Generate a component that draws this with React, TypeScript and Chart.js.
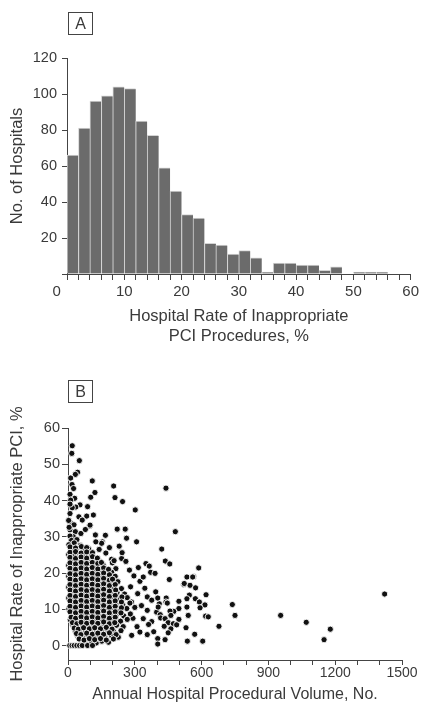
import React, { useEffect, useRef } from 'react';
import { Chart, registerables } from 'chart.js';

Chart.register(...registerables);

// ---------- Panel A: histogram ----------
const binStarts = [0, 2, 4, 6, 8, 10, 12, 14, 16, 18, 20, 22, 24, 26, 28, 30, 32, 34, 36, 38, 40, 42, 44, 46, 48, 50, 52, 54];
const hospitalCounts = [66, 81, 96, 99, 104, 103, 85, 77, 59, 46, 33, 31, 17, 16, 11, 13, 9, 1, 6, 6, 5, 5, 2, 4, 0, 1, 1, 1];
const rateAxisLabels = [0, 10, 20, 30, 40, 50, 60];
const countAxisLabels = [20, 40, 60, 80, 100, 120];

// ---------- Panel B: scatter ----------
const volumeAxisLabels = [0, 300, 600, 900, 1200, 1500];
const scatterRateTicks = [0, 10, 20, 30, 40, 50, 60];

// [annual volume, rate of inappropriate PCI %]
const hospitalPoints: [number, number][] = [
  // sparse, high rates
  [19, 55.1], [17, 53], [51, 51], [43, 47.8], [33, 47.2], [12, 46.2], [18, 44.4], [25, 43.3], [9, 41.7], [30, 40.6],
  [12, 40.1], [109, 45.4], [121, 42.2], [102, 40.9], [54, 38.8], [35, 38.2], [19, 38], [9, 39], [9, 36.4], [49, 35.5],
  [84, 35.7], [88, 38.3], [114, 36], [64, 34.6], [13, 33.7], [27, 33.3], [97, 33], [9, 31.9], [33, 31.4], [58, 30.9],
  [78, 32], [99, 33.2], [123, 30.5], [168, 30.4], [24, 30], [9, 30.2], [16, 29], [40, 29.2], [3, 34.5], [5, 32.6],
  // mid volumes, mid-high rates
  [205, 44], [211, 40.8], [245, 39.7], [302, 37.4], [221, 32.1], [257, 32.1], [154, 28.6], [263, 29.6], [308, 28.6],
  [230, 27.4], [151, 28.2], [125, 28.6], [186, 27], [140, 26.5], [170, 25.5], [196, 23.8], [241, 24], [243, 25.6],
  [260, 23.2], [199, 22.8], [215, 21.2], [207, 23.4],
  [440, 43.4], [482, 31.4], [421, 26.6], [437, 23.3], [457, 22.5], [455, 18.2],
  // 270-400
  [281, 16.2], [313, 14.3], [323, 17.7], [338, 18.9], [371, 20.2], [391, 19.9], [316, 21.5], [350, 22.6], [365, 21.9],
  [356, 13.4], [376, 12.5], [398, 9.2], [356, 9.7], [338, 7.4], [376, 6.6], [356, 3], [323, 3.7], [286, 2.8], [394, 14.8],
  [300, 10.5], [292, 7.5], [330, 11], [310, 5.2], [345, 15.8], [285, 12], [296, 19.2], [276, 20.8], [362, 5.8], [385, 3.8],
  // 400-650
  [534, 18.9], [564, 19], [520, 16.8], [548, 16.6], [573, 15.9], [545, 13.9], [572, 12.9], [620, 14], [590, 12], [615, 11.2],
  [593, 10.4], [534, 12.9], [534, 10.6], [540, 8.3], [618, 8.1], [498, 12.2], [498, 10.2], [498, 7.2], [475, 9.4], [441, 13.1],
  [440, 12], [410, 11.5], [405, 10.6], [414, 8.5], [416, 7.6], [436, 7.4], [450, 6.3], [473, 6], [488, 5.7], [462, 4.6],
  [450, 3.5], [530, 4.9], [569, 3.1], [403, 1.9], [403, 0.4], [436, 1.6], [536, 1.2], [605, 1.2], [587, 21.4], [403, 13.1],
  [446, 11.7], [458, 9.5], [522, 17.1], [560, 18.9], [462, 8.3], [432, 5.3], [630, 7.9],
  // far right
  [678, 5.3], [738, 11.3], [750, 8.3], [955, 8.3], [1070, 6.4], [1178, 4.5], [1150, 1.6], [1422, 14.2],
  // dense cloud
  [4, 27.8], [28, 28.3], [55, 27.6],
  [15, 26.4], [40, 26.8], [66, 26.2], [92, 26.7],
  [3, 25.1], [28, 24.8], [52, 25.3], [77, 24.9], [104, 25.2],
  [15, 23.6], [40, 23.3], [65, 23.8], [90, 23.2], [116, 23.7], [142, 23.3],
  [3, 22.1], [28, 21.8], [52, 22.3], [77, 21.7], [102, 22.2], [128, 21.9], [158, 22.2],
  [15, 20.6], [40, 20.3], [65, 20.8], [90, 20.2], [115, 20.7], [140, 20.4], [168, 20.8], [196, 20.2],
  [3, 19.1], [28, 18.8], [52, 19.3], [77, 18.7], [102, 19.2], [127, 18.9], [153, 19.3], [182, 18.8], [212, 19.1],
  [15, 17.6], [40, 17.3], [65, 17.8], [90, 17.2], [115, 17.7], [140, 17.4], [166, 17.8], [194, 17.2], [224, 17.6],
  [3, 16.1], [28, 15.8], [52, 16.3], [77, 15.7], [102, 16.2], [127, 15.9], [152, 16.3], [178, 15.8], [206, 16.1], [240, 15.7],
  [15, 14.6], [40, 14.3], [65, 14.8], [90, 14.2], [115, 14.7], [140, 14.4], [165, 14.8], [192, 14.3], [220, 14.6], [254, 14.2],
  [3, 13.1], [28, 12.8], [52, 13.3], [77, 12.7], [102, 13.2], [127, 12.9], [152, 13.3], [178, 12.8], [204, 13.1], [234, 12.7], [266, 13.2],
  [15, 11.6], [40, 11.3], [65, 11.8], [90, 11.2], [115, 11.7], [140, 11.4], [165, 11.8], [190, 11.3], [216, 11.6], [246, 11.2], [278, 11.7],
  [4, 10.1], [28, 9.8], [52, 10.3], [77, 9.7], [102, 10.2], [127, 9.9], [152, 10.3], [178, 9.8], [204, 10.1], [232, 9.7], [264, 10.2],
  [15, 8.6], [40, 8.3], [65, 8.8], [90, 8.2], [115, 8.7], [140, 8.4], [165, 8.8], [190, 8.3], [218, 8.6], [250, 8.2], [280, 8.7],
  [10, 7.1], [28, 6.8], [52, 7.3], [77, 6.7], [102, 7.2], [127, 6.9], [152, 7.3], [178, 6.8], [204, 7.1], [236, 6.7], [266, 7.2],
  [22, 5.6], [40, 5.3], [65, 5.8], [90, 5.2], [115, 5.7], [140, 5.4], [165, 5.8], [190, 5.3], [218, 5.6], [248, 5.2],
  [32, 4.1], [52, 3.8], [77, 4.3], [102, 3.7], [127, 4.2], [152, 3.9], [178, 4.3], [206, 3.8], [238, 4.1],
  [44, 2.6], [65, 2.3], [90, 2.8], [115, 2.2], [140, 2.7], [165, 2.4], [194, 2.8], [226, 2.3],
  [58, 1.1], [77, 0.8], [102, 1.3], [127, 0.7], [152, 1.2], [182, 0.9],
  [8, 0], [18, 0], [28, 0], [40, 0], [52, 0], [64, 0], [88, 0], [110, 0],
  // dense cloud, in-between hospitals
  [9, 27.2], [34, 26.9], [60, 27.3], [84, 27.0],
  [9, 25.7], [34, 25.9], [59, 25.5], [84, 25.8], [110, 25.6],
  [9, 24.3], [34, 24.0], [59, 24.4], [84, 24.1], [110, 24.5], [132, 24.1],
  [9, 22.8], [34, 22.5], [59, 22.9], [84, 22.6], [109, 22.9], [134, 22.6], [150, 22.9],
  [9, 21.3], [34, 21.0], [59, 21.4], [84, 21.1], [109, 21.5], [134, 21.1], [160, 21.4], [182, 21.0],
  [9, 19.8], [34, 19.5], [59, 19.9], [84, 19.6], [109, 19.9], [134, 19.6], [160, 20.0], [186, 19.5],
  [9, 18.3], [34, 18.0], [59, 18.4], [84, 18.1], [109, 18.4], [134, 18.1], [160, 18.5], [186, 18.0], [200, 18.3],
  [9, 16.8], [34, 16.5], [59, 16.9], [84, 16.6], [109, 16.9], [134, 16.6], [160, 17.0], [186, 16.5], [212, 16.8],
  [9, 15.3], [34, 15.0], [59, 15.4], [84, 15.1], [109, 15.4], [134, 15.1], [160, 15.5], [186, 15.0], [214, 15.3],
  [9, 13.8], [34, 13.5], [59, 13.9], [84, 13.6], [109, 13.9], [134, 13.6], [160, 14.0], [186, 13.5], [212, 13.8], [242, 13.4],
  [9, 12.3], [34, 12.0], [59, 12.4], [84, 12.1], [109, 12.4], [134, 12.1], [160, 12.5], [186, 12.0], [212, 12.3], [240, 12.0],
  [9, 10.8], [34, 10.5], [59, 10.9], [84, 10.6], [109, 10.9], [134, 10.6], [160, 11.0], [186, 10.5], [212, 10.8], [240, 10.4],
  [9, 9.3], [34, 9.0], [59, 9.4], [84, 9.1], [109, 9.4], [134, 9.1], [160, 9.5], [186, 9.0], [212, 9.3], [238, 9.0],
  [14, 7.8], [34, 7.5], [59, 7.9], [84, 7.6], [109, 7.9], [134, 7.6], [160, 8.0], [186, 7.5], [212, 7.8],
  [20, 6.3], [40, 6.0], [59, 6.4], [84, 6.1], [109, 6.4], [134, 6.1], [160, 6.5], [186, 6.0], [210, 6.3],
  [28, 4.8], [46, 4.5], [70, 4.9], [96, 4.6], [120, 4.9], [146, 4.6], [172, 5.0], [198, 4.5],
  [38, 3.3], [58, 3.0], [84, 3.4], [109, 3.1], [134, 3.4], [160, 3.1], [186, 3.5], [216, 3.0],
  [50, 1.8], [72, 1.5], [96, 1.9], [120, 1.6], [146, 1.9], [172, 1.5], [204, 1.8],
];

const FONT = "'Liberation Sans', Arial, Helvetica, sans-serif";
const TEXT = '#3a3a3a';
const LINE = '#444444';

function HistogramChart() {
  const ref = useRef<HTMLCanvasElement | null>(null);
  useEffect(() => {
    if (!ref.current) return;
    const chart = new Chart(ref.current, {
      type: 'bar',
      data: {
        datasets: [
          {
            data: binStarts.map((b, i) => ({ x: b + 1, y: hospitalCounts[i] })),
            backgroundColor: '#6b6b6b',
            borderColor: '#d4d4d4',
            borderWidth: { top: 1, left: 1, right: 0, bottom: 0 },
            borderSkipped: false,
            barPercentage: 1,
            categoryPercentage: 1,
          } as any,
        ],
      },
      options: {
        animation: false,
        responsive: false,
        maintainAspectRatio: false,
        layout: { padding: { top: 58, right: 11, left: 0, bottom: 0 } },
        plugins: { legend: { display: false }, tooltip: { enabled: false } },
        scales: {
          x: {
            type: 'linear',
            min: 0,
            max: 60,
            offset: false,
            border: { display: true, color: LINE, width: 1 },
            grid: { display: true, drawOnChartArea: false, drawTicks: true, tickLength: 6, tickColor: LINE, offset: false },
            ticks: {
              stepSize: 2,
              autoSkip: false,
              maxRotation: 0,
              maxTicksLimit: 100,
              padding: 3,
              color: TEXT,
              font: { family: FONT, size: 15 },
              callback: (v: any) => {
                const n = Number(v);
                if (!rateAxisLabels.includes(n)) return '';
                return n === 0 ? '0\u2007\u2007 ' : String(n);
              },
            },
            title: {
              display: true,
              text: ['Hospital Rate of Inappropriate', 'PCI Procedures, %'],
              color: TEXT,
              font: { family: FONT, size: 16.5, lineHeight: 20 / 16.5 },
              padding: { top: 0, bottom: 4 },
            },
            afterFit: (s: any) => {
              s.height = 76;
            },
          } as any,
          y: {
            type: 'linear',
            min: 0,
            max: 120,
            border: { display: true, color: LINE, width: 1 },
            grid: { display: true, drawOnChartArea: false, drawTicks: true, tickLength: 5, tickColor: LINE },
            ticks: {
              stepSize: 20,
              padding: 5,
              color: TEXT,
              font: { family: FONT, size: 14.5 },
              callback: (v: any) => (countAxisLabels.includes(Number(v)) ? String(v) : ''),
            },
            title: {
              display: true,
              text: 'No. of Hospitals',
              color: TEXT,
              font: { family: FONT, size: 16.5, lineHeight: 1.2 },
              padding: { top: 8, bottom: 0 },
            },
            afterFit: (s: any) => {
              s.width = 67;
            },
          } as any,
        },
      },
    });
    return () => chart.destroy();
  }, []);
  return <canvas ref={ref} width={422} height={350} style={{ position: 'absolute', left: 0, top: 0, width: 422, height: 350 }} />;
}

function ScatterChart() {
  const ref = useRef<HTMLCanvasElement | null>(null);
  useEffect(() => {
    if (!ref.current) return;
    const chart = new Chart(ref.current, {
      type: 'scatter',
      data: {
        datasets: [
          {
            data: hospitalPoints.map(([x, y]) => ({ x, y })),
            pointRadius: 3.1,
            pointBorderWidth: 0.9,
            pointBorderColor: '#ffffff',
            pointBackgroundColor: '#111111',
            clip: false,
          } as any,
        ],
      },
      options: {
        animation: false,
        responsive: false,
        maintainAspectRatio: false,
        layout: { padding: { top: 78, right: 20, left: 0, bottom: 0 } },
        plugins: { legend: { display: false }, tooltip: { enabled: false } },
        scales: {
          x: {
            type: 'linear',
            min: 0,
            max: 1500,
            border: { display: true, color: LINE, width: 1 },
            grid: { display: true, drawOnChartArea: false, drawTicks: true, tickLength: 5, tickColor: LINE },
            ticks: {
              stepSize: 100,
              autoSkip: false,
              maxRotation: 0,
              maxTicksLimit: 100,
              padding: 0,
              color: TEXT,
              font: { family: FONT, size: 14 },
              callback: (v: any) => (volumeAxisLabels.includes(Number(v)) ? String(v) : ''),
            },
            title: {
              display: true,
              text: 'Annual Hospital Procedural Volume, No.',
              color: TEXT,
              font: { family: FONT, size: 16, lineHeight: 1.2 },
              padding: { top: 0, bottom: 5 },
            },
            afterFit: (s: any) => {
              s.height = 49;
            },
          } as any,
          y: {
            type: 'linear',
            min: -4,
            max: 60,
            border: { display: true, color: LINE, width: 1 },
            grid: { display: true, drawOnChartArea: false, drawTicks: true, tickLength: 6, tickColor: LINE },
            afterBuildTicks: (s: any) => {
              s.ticks = scatterRateTicks.map((v) => ({ value: v }));
            },
            ticks: {
              padding: 2,
              color: TEXT,
              font: { family: FONT, size: 14.5 },
              callback: (v: any) => String(v),
            },
            title: {
              display: true,
              text: 'Hospital Rate of Inappropriate PCI, %',
              color: TEXT,
              font: { family: FONT, size: 16.5, lineHeight: 1.2 },
              padding: { top: 8, bottom: 0 },
            },
            afterFit: (s: any) => {
              s.width = 68;
            },
          } as any,
        },
      },
    });
    return () => chart.destroy();
  }, []);
  return <canvas ref={ref} width={422} height={359} style={{ position: 'absolute', left: 0, top: 350, width: 422, height: 359 }} />;
}

function PanelLabel({ text, top }: { text: string; top: number }) {
  return (
    <div
      style={{
        position: 'absolute',
        left: 68,
        top,
        width: 25,
        height: 23,
        boxSizing: 'border-box',
        border: `1px solid ${LINE}`,
        fontFamily: FONT,
        fontSize: 16,
        lineHeight: '21px',
        textAlign: 'center',
        color: TEXT,
      }}
    >
      {text}
    </div>
  );
}

export default function App() {
  return (
    <div style={{ position: 'fixed', left: 0, top: 0, width: 422, height: 709, background: '#ffffff', overflow: 'hidden' }}>
      <HistogramChart />
      <ScatterChart />
      <PanelLabel text="A" top={12} />
      <PanelLabel text="B" top={380} />
    </div>
  );
}
